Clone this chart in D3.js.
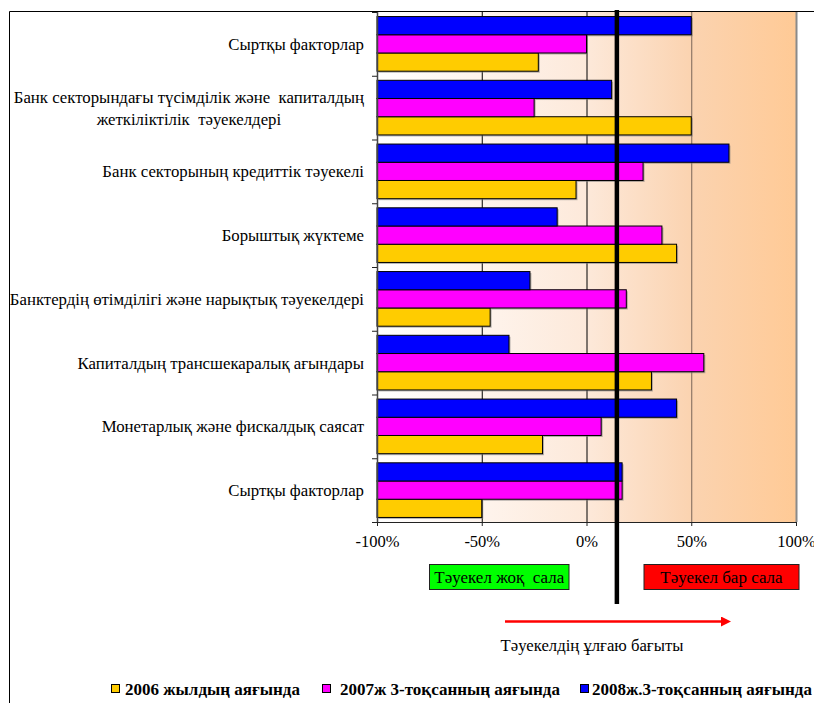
<!DOCTYPE html>
<html>
<head>
<meta charset="utf-8">
<script src="https://cdn.jsdelivr.net/npm/d3@7"></script>
<style>
  html, body { margin: 0; padding: 0; background: #fff; }
  svg { display: block; }
  text { white-space: pre; }
</style>
</head>
<body>
<svg id="chart" width="814" height="703"></svg>
<script>
// Risk factor categories, top to bottom (multi-line labels split by "\n")
const categories = [
  "Сыртқы факторлар",
  "Банк секторындағы түсімділік және  капиталдың\nжеткіліктілік  тәуекелдері",
  "Банк секторының кредиттік тәуекелі",
  "Борыштық жүктеме",
  "Банктердің өтімділігі және нарықтық тәуекелдері",
  "Капиталдың трансшекаралық ағындары",
  "Монетарлық және фискалдық саясат",
  "Сыртқы факторлар"
];

// Series (percent), one value per category
const series2006 = [-23, 50, -5, 43, -46, 31, -21, -50];
const series2007 = [0, -25, 27, 36, 19, 56, 7, 17];
const series2008 = [50, 12, 68, -14, -27, -37, 43, 17];

const seriesNames = ["2006 жылдың аяғында", "2007ж 3-тоқсанның аяғында", "2008ж.3-тоқсанның аяғында"];
const seriesColors = ["#FFCC00", "#FF00FF", "#0000FF"];

const xTicks = [-100, -50, 0, 50, 100];
const riskThreshold = 14.5;

const zoneNoRisk = "Тәуекел жоқ  сала";
const zoneRisk = "Тәуекел бар сала";
const arrowLabel = "Тәуекелдің ұлғаю бағыты";

const serif = '"Liberation Serif", "Times New Roman", serif';
const svg = d3.select("#chart");

// Outer frame (top and left edges visible)
svg.append("path")
  .attr("d", "M9.5,703 V11.5 H814")
  .attr("fill", "none").attr("stroke", "#000").attr("stroke-width", 1);

const plot = { left: 377, right: 796, top: 12, bottom: 522 };

const x = d3.scaleLinear().domain([-100, 100]).range([plot.left, plot.right]);
const y = d3.scaleBand().domain(d3.range(categories.length)).range([plot.top, plot.bottom]);
// Bars within a band: blue on top, magenta, yellow at bottom
const order = [2, 1, 0];
const inner = d3.scaleBand().domain(order).range([0, y.bandwidth()]).paddingOuter(0.25).paddingInner(0);

// Background gradient
const defs = svg.append("defs");
const grad = defs.append("linearGradient").attr("id", "bg").attr("x1", "0").attr("x2", "1").attr("y1", "0").attr("y2", "0");
grad.append("stop").attr("offset", "0").attr("stop-color", "#FFFFFF");
grad.append("stop").attr("offset", "0.5").attr("stop-color", "#FDE9DA");
grad.append("stop").attr("offset", "0.75").attr("stop-color", "#FBD3B0");
grad.append("stop").attr("offset", "1").attr("stop-color", "#FFCA96");

svg.append("rect")
  .attr("x", x(-100)).attr("y", plot.top)
  .attr("width", x(100) - x(-100)).attr("height", plot.bottom - plot.top)
  .attr("fill", "url(#bg)");

// Vertical gridlines
const gridColor = { "-50": "#000", "0": "#000", "50": "#7a6658", "100": "#8a8a8a" };
svg.append("g").selectAll("line")
  .data([-50, 0, 50, 100])
  .join("line")
  .attr("x1", d => x(d) + 0.5).attr("x2", d => x(d) + 0.5)
  .attr("y1", plot.top).attr("y2", plot.bottom)
  .attr("stroke", d => gridColor[d]).attr("stroke-width", d => d === 100 ? 2 : 1);

// Bars: drawn from the axis base (-100%) to each value
const rows = [];
categories.forEach((c, i) => {
  [series2006, series2007, series2008].forEach((s, k) => {
    rows.push({ cat: i, series: k, value: s[i] });
  });
});

const barG = svg.append("g");
barG.selectAll("rect.shadow")
  .data(rows).join("rect").attr("class", "shadow")
  .attr("x", x(-100) + 1.5)
  .attr("y", d => y(d.cat) + inner(d.series) + 1.5)
  .attr("width", d => x(d.value) - x(-100))
  .attr("height", inner.bandwidth())
  .attr("fill", "#777").attr("opacity", 0.55);
barG.selectAll("rect.bar")
  .data(rows).join("rect").attr("class", "bar")
  .attr("x", x(-100))
  .attr("y", d => y(d.cat) + inner(d.series))
  .attr("width", d => x(d.value) - x(-100))
  .attr("height", inner.bandwidth())
  .attr("fill", d => seriesColors[d.series])
  .attr("stroke", "#000").attr("stroke-width", 1);

// Left axis (category axis) with ticks between categories
svg.append("line")
  .attr("x1", plot.left + 0.5).attr("x2", plot.left + 0.5)
  .attr("y1", plot.top).attr("y2", plot.bottom)
  .attr("stroke", "#444").attr("stroke-width", 1.5);
svg.append("g").selectAll("line")
  .data(d3.range(categories.length + 1))
  .join("line")
  .attr("x1", plot.left - 5).attr("x2", plot.left)
  .attr("y1", d => (d < categories.length ? y(d) : plot.bottom) + 0.5)
  .attr("y2", d => (d < categories.length ? y(d) : plot.bottom) + 0.5)
  .attr("stroke", "#222");

// Bottom value axis
const xAxis = d3.axisBottom(x).tickValues(xTicks).tickFormat(d => d + "%").tickSize(4).tickSizeOuter(0);
const xg = svg.append("g").attr("transform", `translate(0,${plot.bottom})`).call(xAxis);
xg.attr("font-family", serif).attr("font-size", 16.5);
xg.select(".domain").attr("stroke", "#222");
xg.selectAll(".tick line").attr("stroke", "#222");
xg.selectAll(".tick text")
  .attr("y", 13)
  .attr("font-family", serif)
  .attr("font-size", 16.5).attr("fill", "#000");

// Category labels
const labelRight = 364;
const labG = svg.append("g").attr("font-family", serif).attr("font-size", 16.8);
categories.forEach((c, i) => {
  const lines = c.split("\n");
  const cy = y(i) + y.bandwidth() / 2;
  const lh = 22;
  const t = labG.append("text").attr("text-anchor", "end").attr("font-family", serif);
  const tspans = lines.map((ln, j) =>
    t.append("tspan").attr("x", labelRight)
      .attr("y", cy + (j - (lines.length - 1) / 2) * lh)
      .attr("dy", "0.35em").text(ln));
  if (lines.length > 1) {
    // Centre each line on the widest line of the block
    const widths = tspans.map(s => s.node().getComputedTextLength());
    const maxW = d3.max(widths);
    tspans.forEach(s => s.attr("x", labelRight - maxW / 2));
    t.attr("text-anchor", "middle");
  }
});

// Threshold line
svg.append("line")
  .attr("x1", x(riskThreshold)).attr("x2", x(riskThreshold))
  .attr("y1", 10).attr("y2", 604)
  .attr("stroke", "#000").attr("stroke-width", 4.5);

// Zone boxes
const zones = [
  { label: zoneNoRisk, x0: 429.5, x1: 569, fill: "#00FF00" },
  { label: zoneRisk, x0: 644, x1: 799, fill: "#FF0000" }
];
const zg = svg.append("g");
zones.forEach(z => {
  zg.append("rect").attr("x", z.x0).attr("y", 564.5).attr("width", z.x1 - z.x0).attr("height", 25)
    .attr("fill", z.fill).attr("stroke", "#222").attr("stroke-width", 1);
  zg.append("text").attr("x", (z.x0 + z.x1) / 2).attr("y", 577).attr("dy", "0.35em")
    .attr("text-anchor", "middle").attr("font-family", serif).attr("font-size", 17).text(z.label);
});

// Direction arrow
defs.append("marker").attr("id", "arrowHead")
  .attr("viewBox", "0 0 10 10").attr("refX", 1).attr("refY", 5)
  .attr("markerWidth", 5).attr("markerHeight", 4).attr("markerUnits", "strokeWidth")
  .attr("orient", "auto")
  .append("path").attr("d", "M0,0 L10,5 L0,10 Z").attr("fill", "#FF0000");
svg.append("line")
  .attr("x1", 505).attr("x2", 722).attr("y1", 621.5).attr("y2", 621.5)
  .attr("stroke", "#FF0000").attr("stroke-width", 2.5)
  .attr("marker-end", "url(#arrowHead)");
svg.append("text").attr("x", 592).attr("y", 645).attr("dy", "0.35em")
  .attr("text-anchor", "middle").attr("font-family", serif).attr("font-size", 16.7).text(arrowLabel);

// Legend
const legendItems = [
  { name: seriesNames[0], color: seriesColors[0], x: 111, tx: 125 },
  { name: seriesNames[1], color: seriesColors[1], x: 322, tx: 340 },
  { name: seriesNames[2], color: seriesColors[2], x: 580, tx: 592 }
];
const lg = svg.append("g");
legendItems.forEach(it => {
  lg.append("rect").attr("x", it.x + 0.5).attr("y", 684.5).attr("width", 8).attr("height", 8)
    .attr("fill", it.color).attr("stroke", "#000").attr("stroke-width", 1);
  lg.append("text").attr("x", it.tx).attr("y", 689).attr("dy", "0.35em")
    .attr("font-family", serif).attr("font-size", 17).attr("font-weight", "bold").text(it.name);
});
</script>
</body>
</html>
